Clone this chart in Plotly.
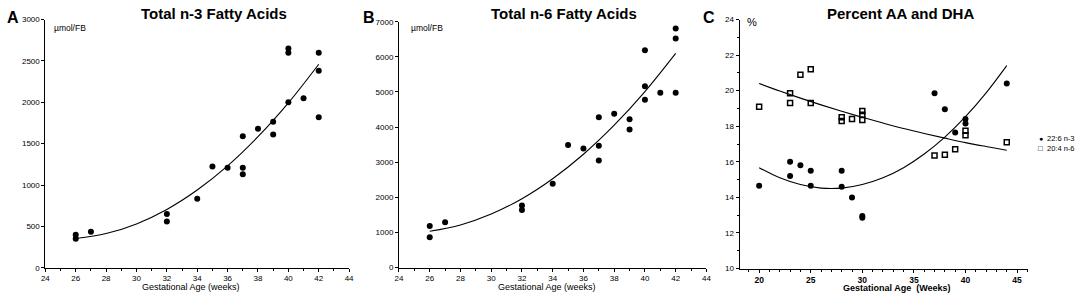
import plotly.graph_objects as go

# ---------------- Data ----------------
# Panel A: Total n-3 fatty acids (umol/FB) vs gestational age (weeks)
a_weeks = [26, 26, 27, 32, 32, 34, 35, 36, 37, 37, 37, 38, 39, 39, 40, 40, 40, 41, 42, 42, 42]
a_vals = [400, 350, 435, 650, 560, 835, 1225, 1210, 1210, 1130, 1590, 1680, 1765, 1610, 2650, 2600, 2000, 2050, 2600, 2380, 1820]
a_fit_weeks = [26, 28, 30, 32, 34, 36, 38, 40, 42]
a_fit_vals = [355, 414, 531, 706, 940, 1232, 1584, 1993, 2460]

# Panel B: Total n-6 fatty acids (umol/FB)
b_weeks = [26, 26, 27, 32, 32, 34, 35, 36, 37, 37, 37, 38, 39, 39, 40, 40, 40, 41, 42, 42, 42]
b_vals = [1180, 860, 1290, 1770, 1640, 2390, 3490, 3390, 4280, 3470, 3050, 4380, 4220, 3930, 6190, 5160, 4780, 4980, 6810, 6520, 4980]
b_fit_weeks = [26, 28, 30, 32, 34, 36, 38, 40, 42]
b_fit_vals = [1033, 1213, 1522, 1961, 2530, 3227, 4054, 5010, 6097]

# Panel C: percent DHA (22:6 n-3) and AA (20:4 n-6)
dha_weeks = [20, 23, 23, 24, 25, 25, 28, 28, 29, 30, 30, 37, 38, 39, 40, 40, 44]
dha_vals = [14.65, 16.0, 15.2, 15.8, 15.5, 14.65, 15.5, 14.6, 14.0, 12.95, 12.85, 19.85, 18.95, 17.65, 18.4, 18.15, 20.4]
aa_weeks = [20, 23, 23, 24, 25, 25, 28, 28, 29, 30, 30, 30, 37, 38, 39, 40, 40, 44]
aa_vals = [19.1, 19.85, 19.3, 20.9, 21.2, 19.3, 18.5, 18.3, 18.4, 18.85, 18.65, 18.35, 16.35, 16.4, 16.7, 17.75, 17.5, 17.1]
fit_c_weeks = [20, 22, 24, 26, 28, 30, 32, 34, 36, 38, 40, 42, 44]
dha_fit_vals = [15.67, 15.10, 14.72, 14.52, 14.52, 14.72, 15.10, 15.67, 16.44, 17.39, 18.54, 19.88, 21.41]
aa_fit_vals = [20.40, 19.98, 19.58, 19.20, 18.84, 18.50, 18.18, 17.87, 17.59, 17.33, 17.08, 16.86, 16.65]

a_yticks = [0, 500, 1000, 1500, 2000, 2500, 3000]
b_yticks = [0, 1000, 2000, 3000, 4000, 5000, 6000, 7000]
ab_xticks = [24, 26, 28, 30, 32, 34, 36, 38, 40, 42, 44]
c_yticks = [10, 12, 14, 16, 18, 20, 22, 24]
c_xticks = [20, 25, 30, 35, 40, 45]
legend_labels = ["22:6 n-3", "20:4 n-6"]

FONT = "Liberation Sans, Arial, sans-serif"
fig = go.Figure()

dot = dict(symbol="circle", size=6, color="black")
sq = dict(symbol="square-open", size=5, color="black", line=dict(width=1.5, color="black"))
ln = dict(color="black", width=1.1, shape="spline")

fig.add_trace(go.Scatter(x=a_weeks, y=a_vals, mode="markers", marker=dot, xaxis="x", yaxis="y", showlegend=False))
fig.add_trace(go.Scatter(x=a_fit_weeks, y=a_fit_vals, mode="lines", line=ln, xaxis="x", yaxis="y", showlegend=False))
fig.add_trace(go.Scatter(x=b_weeks, y=b_vals, mode="markers", marker=dot, xaxis="x2", yaxis="y2", showlegend=False))
fig.add_trace(go.Scatter(x=b_fit_weeks, y=b_fit_vals, mode="lines", line=ln, xaxis="x2", yaxis="y2", showlegend=False))
fig.add_trace(go.Scatter(x=fit_c_weeks, y=aa_fit_vals, mode="lines", line=ln, xaxis="x3", yaxis="y3", showlegend=False))
fig.add_trace(go.Scatter(x=fit_c_weeks, y=dha_fit_vals, mode="lines", line=ln, xaxis="x3", yaxis="y3", showlegend=False))
fig.add_trace(go.Scatter(x=aa_weeks, y=aa_vals, mode="markers", marker=sq, xaxis="x3", yaxis="y3", showlegend=False))
fig.add_trace(go.Scatter(x=dha_weeks, y=dha_vals, mode="markers", marker=dot, xaxis="x3", yaxis="y3", showlegend=False))

W, H = 1084, 300


def px_x(p):
    return p / W


def px_y(p):
    return 1 - p / H


tickfont = dict(family=FONT, size=8, color="black")
axis_common = dict(showline=True, linecolor="black", linewidth=1, showgrid=False, zeroline=False,
                   ticks="outside", ticklen=3, tickcolor="black", tickwidth=1, tickfont=tickfont)
minor_x = dict(dtick=1, ticks="outside", ticklen=2, tickcolor="black")

fig.update_layout(
    width=W, height=H,
    margin=dict(l=0, r=0, t=0, b=0),
    paper_bgcolor="white", plot_bgcolor="white",
    font=dict(family=FONT, color="black"),
    xaxis=dict(domain=[px_x(41.7), px_x(348)], range=[24, 44], tickvals=ab_xticks, anchor="y",
               minor=minor_x, **axis_common),
    yaxis=dict(domain=[px_y(272), px_y(16)], range=[0, 3000], tickvals=a_yticks, anchor="x", **axis_common),
    xaxis2=dict(domain=[px_x(398.3), px_x(708.3)], range=[24, 44], tickvals=ab_xticks, anchor="y2",
                minor=minor_x, **axis_common),
    yaxis2=dict(domain=[px_y(271.7), px_y(18.3)], range=[0, 7000], tickvals=b_yticks, anchor="x2", **axis_common),
    xaxis3=dict(domain=[px_x(741.7), px_x(1033)], range=[18.1, 46.1], tickvals=c_xticks, anchor="y3",
                minor=minor_x,
                **{**axis_common, "tickfont": dict(family=FONT, size=8.5, color="black", weight="bold")}),
    yaxis3=dict(domain=[px_y(272.7), px_y(16)], range=[10, 24], tickvals=c_yticks, anchor="x3",
                minor=dict(dtick=1, ticks="outside", ticklen=2, tickcolor="black"), **axis_common),
)

ann = []


def add(text, x, y, size, bold=False, xanchor="center", yanchor="middle"):
    ann.append(dict(text=text, x=px_x(x), y=px_y(y), xref="paper", yref="paper", showarrow=False,
                    xanchor=xanchor, yanchor=yanchor,
                    font=dict(family=FONT, size=size, color="black", weight="bold" if bold else "normal")))


add("Total n-3 Fatty Acids", 212, 10, 15, bold=True)
add("Total n-6 Fatty Acids", 565, 10, 15, bold=True)
add("Percent AA and DHA", 904, 10, 15, bold=True)
add("A", 1, 14, 16, bold=True, xanchor="left")
add("B", 360, 14, 16, bold=True, xanchor="left")
add("C", 703, 14, 16, bold=True, xanchor="left")
add("µmol/FB", 48, 25, 8.5, xanchor="left")
add("µmol/FB", 408, 25, 8.5, xanchor="left")
add("%", 747, 19, 11, xanchor="left")
add("Gestational Age (weeks)", 189, 292, 9)
add("Gestational Age (weeks)", 548, 292, 9)
add("Gestational Age  (Weeks)", 900, 293, 9, bold=True)
add("●", 1045.5, 139, 7)
add("□", 1045.5, 149, 8, bold=True)
add(legend_labels[0], 1050, 139, 7.5, xanchor="left")
add(legend_labels[1], 1050, 149, 7.5, xanchor="left")
fig.update_layout(annotations=ann)

fig.write_html("out.html", post_script="document.body.style.margin='0px';",
               config={"displayModeBar": False})
